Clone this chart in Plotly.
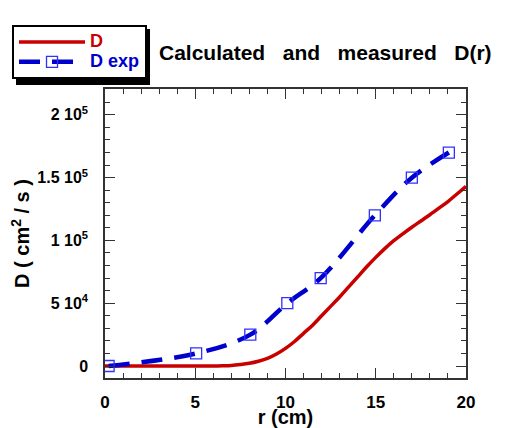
import plotly.graph_objects as go

# Calculated D(r)
r_calc = [0, 1, 2, 3, 4, 5, 6, 6.5, 7, 7.5, 8, 8.5, 9, 9.5, 10, 10.5, 11, 11.5, 12,
          12.5, 13, 13.5, 14, 14.5, 15, 15.5, 16, 16.5, 17, 17.5, 18, 18.5, 19, 19.5, 20]
d_calc = [0, 0, 0, 0, 0, 0, 0, 200, 500, 1200, 2200, 3800, 6000, 9500, 14000, 19500,
          26000, 32500, 40000, 47500, 55000, 63000, 71000, 79000, 86500, 93500, 99800,
          105300, 110500, 115500, 120500, 125700, 131000, 137000, 143000]

# Measured D(r)
r_exp = [0.2, 5.05, 8.05, 10.1, 11.95, 14.95, 17.0, 19.05]
d_exp = [0, 10000, 25000, 50000, 70000, 120000, 150000, 170000]

y_tickvals = [0, 50000, 100000, 150000, 200000]
y_ticktext = ["0", "5 10<sup>4</sup>", "1 10<sup>5</sup>", "1.5 10<sup>5</sup>", "2 10<sup>5</sup>"]
x_tickvals = [0, 5, 10, 15, 20]

FONT = "Liberation Sans"

fig = go.Figure()
fig.add_trace(go.Scatter(
    x=r_calc, y=d_calc, mode="lines", line_shape="spline",
    name="<span style='color:#c80000;font-size:18px'>D</span>",
    line=dict(color="#c80000", width=3.5),
))
fig.add_trace(go.Scatter(
    x=r_exp, y=d_exp, mode="lines+markers", line_shape="spline",
    name="<span style='color:#0000cc;font-size:18px'>D exp</span>",
    line=dict(color="#0000cc", width=4.5, dash="21px,12px"),
    marker=dict(symbol="square-open", size=11, color="#3030ff", line=dict(width=1.3, color="#3030ff")),
))

axis_common = dict(
    showline=True, linecolor="#333333", linewidth=1.5, mirror="ticks",
    ticks="inside", ticklen=10, tickwidth=1.2, tickcolor="#333333",
    showgrid=False, zeroline=False, automargin=False,
)

fig.update_xaxes(
    range=[0, 20], tickvals=x_tickvals,
    minor=dict(dtick=1, ticks="inside", ticklen=5, tickwidth=1.2, tickcolor="#333333"),
    tickfont=dict(family=FONT, size=17, color="black", weight="bold"),
    ticklabelstandoff=8,
    title=dict(text="r (cm)", font=dict(family=FONT, size=20, color="black", weight="bold"), standoff=6),
    **axis_common,
)
fig.update_yaxes(
    range=[-9550, 220600], tickvals=y_tickvals, ticktext=y_ticktext,
    minor=dict(dtick=10000, tick0=0, ticks="inside", ticklen=5, tickwidth=1.2, tickcolor="#333333"),
    tickfont=dict(family=FONT, size=16, color="black", weight="bold"),
    ticklabelstandoff=12,
    title=dict(text="D ( cm<sup>2</sup> / s )", font=dict(family=FONT, size=20, color="black", weight="bold"), standoff=8),
    **axis_common,
)

fig.add_annotation(
    xref="paper", yref="paper", x=0.144, y=1.128, xanchor="left", yanchor="middle",
    text="Calculated\u00a0\u00a0\u00a0and\u00a0\u00a0\u00a0measured\u00a0\u00a0\u00a0D(r)", showarrow=False,
    font=dict(family=FONT, size=21, color="black", weight="bold"),
)

# legend shadow
fig.add_shape(type="rect", xref="paper", yref="paper",
              x0=-0.2465, x1=0.1247, y0=1.0138, y1=1.2076,
              fillcolor="black", line=dict(width=0), layer="above")

# the page places the figure 8px from the top-left corner, so size it to the rest
fig.update_layout(
    width=498, height=420,
    margin=dict(l=97, r=40, t=81, b=50, autoexpand=False),
    paper_bgcolor="white", plot_bgcolor="white",
    showlegend=True,
    legend=dict(
        x=-0.2576, y=1.2215, xanchor="left", yanchor="top",
        bgcolor="white", bordercolor="black", borderwidth=2,
        font=dict(family=FONT, size=13, color="black", weight="bold"),
        itemwidth=66, tracegroupgap=0,
    ),
)

fig.write_html("out.html")
